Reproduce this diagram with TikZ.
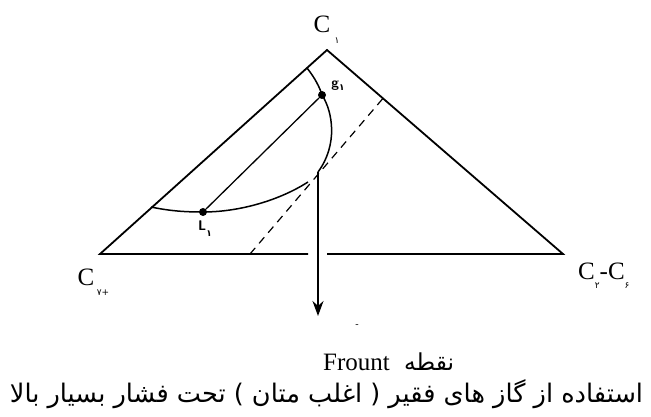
\documentclass[tikz,border=0pt]{standalone}
\usepackage{fontspec}
\setmainfont{Liberation Serif}
\newfontfamily\persfont[Script=Arabic]{DejaVu Sans}
\TeXXeTstate=1
\usetikzlibrary{arrows.meta,positioning}

\newcommand{\digitfont}{\persfont\fontsize{9}{10}\selectfont}

\tikzset{
  edge/.style={line width=1.8pt},
  curve/.style={line width=1.5pt},
  tie/.style={line width=1.3pt},
  tangent/.style={line width=1.2pt, dash pattern=on 8pt off 6pt},
  phase/.style={circle, fill=black, inner sep=0pt, minimum size=8pt},
  comp/.style={inner sep=0pt, font=\fontsize{25}{28}\selectfont},
  sub/.style={inner sep=0pt, font=\digitfont},
  ptlabel/.style={inner sep=0pt, font=\sffamily\bfseries\fontsize{14}{15}\selectfont},
}

\begin{document}
\begin{tikzpicture}[x=1pt, y=-1pt]
  \useasboundingbox (0,0) rectangle (651,417);

  % Triangle corners
  \coordinate (C1) at (327,50);
  \coordinate (C7) at (100,254);
  \coordinate (C26) at (563,254);
  \coordinate (gapL) at (308,254);
  \coordinate (gapR) at (327,254);
  \draw[edge] (gapL) -- (C7) -- (C1) -- (C26) -- (gapR);

  % Phase points and tie line
  \node[phase] (g1) at (322,95) {};
  \node[phase] (L1) at (203,212) {};
  \draw[tie] (L1) -- (g1);

  % Dew and bubble curves
  \coordinate (dew0) at (307,68);
  \coordinate (front) at (318,172);
  \coordinate (bub0) at (151,207);
  \coordinate (bub1) at (308,182);
  \draw[curve] (dew0) .. controls (315,78) and (320,88) .. (g1.center)
     .. controls (333,112) and (338,145) .. (front);
  \draw[curve] (bub0) .. controls (170,211) and (185,212) .. (L1.center)
     .. controls (240,212) and (280,200) .. (bub1);

  % Tangent line
  \coordinate (tan0) at (250,254);
  \coordinate (tan1) at (385,96);
  \draw[tangent] (tan0) -- (tan1);

  % Arrow down from the front
  \coordinate (tip) at (318,316);
  \draw[line width=1.8pt, -{Stealth[length=15pt, width=11pt]}] (front) -- (tip);
  \node[inner sep=0pt, font=\fontsize{10}{12}\selectfont] (mark) at (357,326) {-};

  % Corner labels
  \node[comp, anchor=base] (lC1) at (322,33) {C};
  \node[sub] (s1) at (337,41) {۱};
  \node[comp, anchor=base] (lC7) at (86,285) {C};
  \node[sub] (s7) at (103,293) {۷\kern0pt+};
  \node[comp, anchor=base west] (lC26) at (578,279)
    {C\raisebox{-9pt}{\digitfont ۲}-C\raisebox{-9pt}{\digitfont ۶}};

  % Point labels
  \node[ptlabel] (g1lab) at (338,86) {g\raisebox{-3pt}{\digitfont ۱}};
  \node[ptlabel] (L1lab) at (205,229) {L\raisebox{-6pt}{\digitfont ۱}};

  % Captions
  \node[inner sep=0pt, anchor=base west, font=\fontsize{25}{28}\selectfont] (frount) at (323,370) {Frount};
  \node[inner sep=0pt, anchor=base west] (noqte) at (404,370) {\resizebox{50pt}{!}{\persfont\beginR نقطه\endR}};
  \node[inner sep=0pt, anchor=base] (caption) at (326.5,402)
    {\resizebox{633pt}{!}{\persfont\beginR استفاده از گاز های فقیر ( اغلب متان ) تحت فشار بسیار بالا\endR}};
\end{tikzpicture}
\end{document}
